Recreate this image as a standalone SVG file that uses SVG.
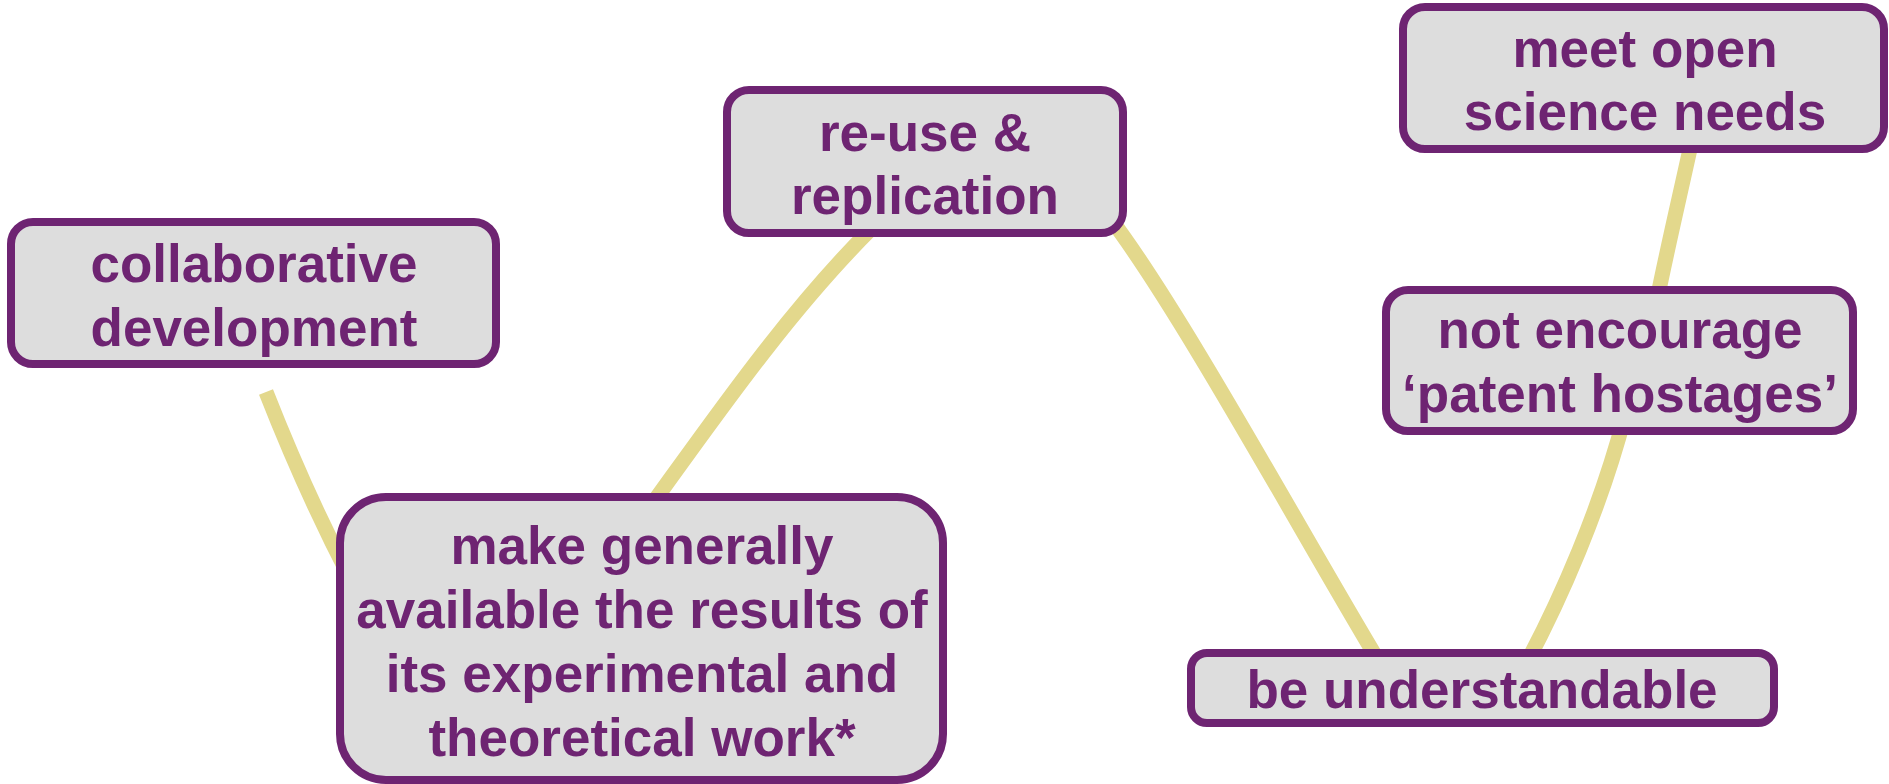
<svg xmlns="http://www.w3.org/2000/svg" width="1889" height="784" viewBox="0 0 1889 784">
<style>
.conn{fill:none;stroke:#e3d88c;stroke-width:15;stroke-linecap:butt}
.box{fill:#dddddd;stroke:#6e2472;stroke-width:8}
.lbl{font-family:"Liberation Sans",Arial,sans-serif;font-weight:bold;font-size:53px;fill:#6e2472;text-anchor:middle}
</style>
<rect width="1889" height="784" fill="#ffffff"/>
<g id="connectors">
<path class="conn" d="M266,392 C288,448 312,505 350,578"/>
<path class="conn" d="M655,500 C720,410 790,310 870,230"/>
<path class="conn" d="M1110,218 C1180,310 1300,530 1375,655"/>
<path class="conn" d="M1527,662 C1560,600 1600,510 1625,415"/>
<path class="conn" d="M1657,300 C1667,250 1680,195 1692,140"/>
</g>
<g id="node-collaborative">
<rect class="box" x="11" y="222" width="485" height="142" rx="22"/>
<text class="lbl" x="254" y="282">collaborative</text>
<text class="lbl" x="254" y="346">development</text>
</g>
<g id="node-reuse">
<rect class="box" x="727" y="90" width="396" height="143" rx="22"/>
<text class="lbl" x="925" y="151">re-use &amp;</text>
<text class="lbl" x="925" y="214">replication</text>
</g>
<g id="node-meet">
<rect class="box" x="1403" y="7" width="481" height="142" rx="22"/>
<text class="lbl" x="1645" y="67">meet open</text>
<text class="lbl" x="1645" y="130">science needs</text>
</g>
<g id="node-notencourage">
<rect class="box" x="1386" y="290" width="467" height="141" rx="22"/>
<text class="lbl" x="1620" y="348">not encourage</text>
<text class="lbl" x="1620" y="412">‘patent hostages’</text>
</g>
<g id="node-make">
<rect class="box" x="340" y="497" width="603" height="283" rx="46"/>
<text class="lbl" x="642" y="564">make generally</text>
<text class="lbl" x="642" y="628">available the results of</text>
<text class="lbl" x="642" y="692">its experimental and</text>
<text class="lbl" x="642" y="756">theoretical work*</text>
</g>
<g id="node-understandable">
<rect class="box" x="1191" y="653" width="583" height="70" rx="16"/>
<text class="lbl" x="1482" y="708">be understandable</text>
</g>
</svg>
